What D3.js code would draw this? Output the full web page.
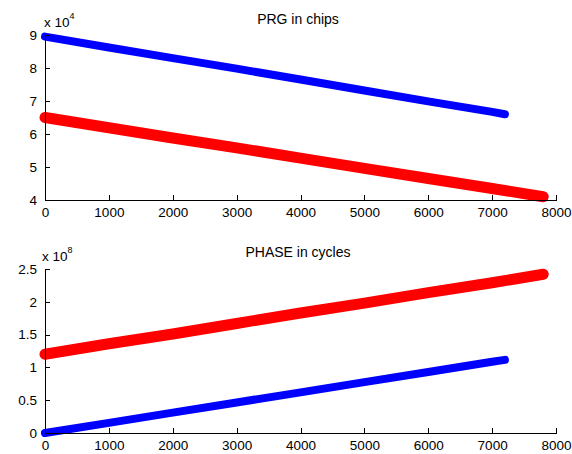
<!DOCTYPE html>
<html>
<head>
<meta charset="utf-8">
<script src="https://d3js.org/d3.v7.min.js"></script>
<style>
body { margin:0; background:#fff; }
text { font-family: "Liberation Sans", Arial, sans-serif; }
.axis path, .axis line { stroke:#000; shape-rendering:crispEdges; }
.axis text { font-size:13.5px; fill:#000; }
</style>
</head>
<body>
<script>
// sample positions (chips / cycles index)
var xBlue = [0,1000,2000,3000,4000,5000,6000,7000,7200];
var xRed  = [0,1000,2000,3000,4000,5000,6000,7000,7800];

// PRG in chips, x 10^4
var prgBlue = [8.95,8.62,8.30,7.98,7.65,7.32,6.99,6.67,6.60];
var prgRed  = [6.50,6.19,5.88,5.58,5.27,4.96,4.65,4.35,4.10];

// PHASE in cycles, x 10^8
var phaseBlue = [0.0,0.155,0.31,0.465,0.62,0.775,0.93,1.085,1.115];
var phaseRed  = [1.20,1.36,1.51,1.67,1.83,1.98,2.14,2.29,2.42];

var xTicks = [0,1000,2000,3000,4000,5000,6000,7000,8000];
var prgTicks = [4,5,6,7,8,9];
var phaseTicks = [0,0.5,1,1.5,2,2.5];

var screen = {width:572,height:454};

var svg = d3.select("body").append("svg")
    .attr("width",screen.width)
    .attr("height",screen.height);

var xScale = d3.scaleLinear().domain([0,8000]).range([45,556]);

var drawPanel = function(cfg)
{
    var yScale = d3.scaleLinear().domain(cfg.domain).range([cfg.bottom,cfg.top]);

    var g = svg.append("g");

    // series, drawn as thick bands like the packed 'x' markers
    cfg.series.forEach(function(s){
        var pts = s.x.map(function(d,i){ return [d,s.y[i]]; });
        var line = d3.line()
            .x(function(d){ return xScale(d[0]); })
            .y(function(d){ return yScale(d[1]); });
        g.append("path")
            .datum(pts)
            .attr("d",line)
            .attr("fill","none")
            .attr("stroke",s.color)
            .attr("stroke-width",s.width)
            .attr("stroke-linecap","round");
    });

    var xAxis = d3.axisBottom(xScale)
        .tickValues(xTicks)
        .tickSizeInner(-5)
        .tickSizeOuter(0)
        .tickPadding(7)
        .tickFormat(d3.format("d"));
    g.append("g")
        .attr("class","axis")
        .attr("transform","translate(0,"+cfg.bottom+")")
        .call(xAxis);

    var yAxis = d3.axisLeft(yScale)
        .tickValues(cfg.ticks)
        .tickSizeInner(-5)
        .tickSizeOuter(0)
        .tickPadding(8)
        .tickFormat(function(d){ return String(d); });
    g.append("g")
        .attr("class","axis")
        .attr("transform","translate(45,0)")
        .call(yAxis);

    // exponent label
    var ex = g.append("text")
        .attr("x",cfg.expX)
        .attr("y",cfg.top-8)
        .attr("font-size",13.5);
    ex.append("tspan").text("x 10");
    ex.append("tspan").attr("font-size",9).attr("dy",-8).text(cfg.exp);

    g.append("text")
        .attr("x",298)
        .attr("y",cfg.titleY)
        .attr("text-anchor","middle")
        .attr("font-size",14)
        .text(cfg.title);
};

drawPanel({
    domain:[4,9], top:35, bottom:200, ticks:prgTicks,
    exp:"4", expX:44, title:"PRG in chips", titleY:24,
    series:[
        {x:xBlue, y:prgBlue, color:"#0000ff", width:8},
        {x:xRed, y:prgRed, color:"#ff0000", width:11}
    ]
});

drawPanel({
    domain:[0,2.5], top:269, bottom:433, ticks:phaseTicks,
    exp:"8", expX:42, title:"PHASE in cycles", titleY:257,
    series:[
        {x:xBlue, y:phaseBlue, color:"#0000ff", width:8},
        {x:xRed, y:phaseRed, color:"#ff0000", width:11}
    ]
});
</script>
</body>
</html>
